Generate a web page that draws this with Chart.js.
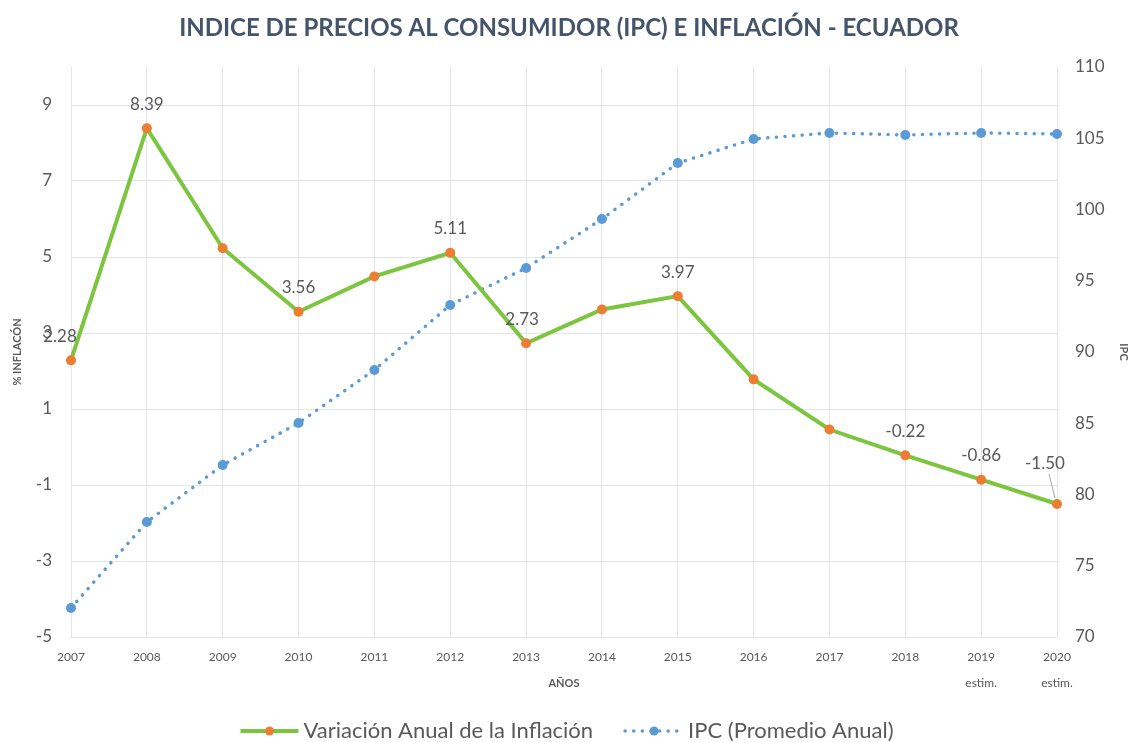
<!DOCTYPE html>
<html>
<head>
<meta charset="utf-8">
<script src="https://cdn.jsdelivr.net/npm/chart.js@4/dist/chart.umd.min.js"></script>
<style>
  html, body { margin: 0; padding: 0; background: #fff; }
  #wrap { width: 1130px; height: 742px; position: relative; }
</style>
</head>
<body>
<div id="wrap"><canvas id="chart" width="1130" height="742"></canvas></div>
<script>
// Datos
const years = ['2007', '2008', '2009', '2010', '2011', '2012', '2013', '2014', '2015', '2016', '2017', '2018', '2019', '2020'];
const estimated = ['2019', '2020'];
const inflacion = [2.28, 8.39, 5.23, 3.56, 4.49, 5.11, 2.73, 3.62, 3.97, 1.78, 0.46, -0.22, -0.86, -1.50];
const ipc = [72.04, 78.07, 82.07, 85.02, 88.74, 93.30, 95.89, 99.33, 103.26, 104.95, 105.37, 105.23, 105.37, 105.30];
const inflacionLabels = ['2.28', '8.39', null, '3.56', null, '5.11', '2.73', null, '3.97', null, null, '-0.22', '-0.86', '-1.50'];
const inflacionTicks = [-5, -3, -1, 1, 3, 5, 7, 9];

const FONT = 'Lato, "Noto Sans", sans-serif';
const GREY = '#595959';
const GREEN = '#7cc53e';
const ORANGE = '#ed7d31';
const BLUE = '#5b9bd5';

const xLabels = years.map(y => estimated.includes(y) ? [y, 'estim.'] : y);

// Title drawn by hand so the plot area can be placed with padding
const titlePlugin = {
  id: 'titleText',
  afterDraw(chart) {
    const ctx = chart.ctx;
    ctx.save();
    ctx.font = 'bold 24px ' + FONT;
    ctx.fillStyle = '#44546a';
    ctx.textAlign = 'center';
    ctx.textBaseline = 'middle';
    ctx.fillText('INDICE DE PRECIOS AL CONSUMIDOR (IPC) E INFLACIÓN - ECUADOR', 569, 28);
    ctx.restore();
  }
};

// Value labels over the inflation points
const labelOffsets = { 0: { dx: -11, dy: 0 }, 6: { dx: -4, dy: 0 }, 13: { dx: -12, dy: -16 } };
const valueLabels = {
  id: 'valueLabels',
  afterDatasetsDraw(chart) {
    const ctx = chart.ctx;
    const meta = chart.getDatasetMeta(0);
    ctx.save();
    ctx.font = '17px ' + FONT;
    ctx.fillStyle = GREY;
    ctx.textAlign = 'center';
    ctx.textBaseline = 'middle';
    meta.data.forEach((pt, i) => {
      const txt = inflacionLabels[i];
      if (!txt) return;
      const off = labelOffsets[i] || { dx: 0, dy: 0 };
      const x = pt.x + off.dx;
      const y = pt.y - 24 + off.dy;
      if (i === 13) {
        // leader line for the displaced label
        ctx.strokeStyle = '#a6a6a6';
        ctx.lineWidth = 1;
        ctx.beginPath();
        ctx.moveTo(x + 4, y + 10);
        ctx.lineTo(pt.x - 2, pt.y - 6);
        ctx.stroke();
      }
      ctx.fillText(txt, x, y);
    });
    ctx.restore();
  }
};

// Legend with line + marker samples like the original
const customLegend = {
  id: 'customLegend',
  afterDraw(chart) {
    const ctx = chart.ctx;
    const y = 731;
    ctx.save();
    ctx.font = '22px ' + FONT;
    ctx.textBaseline = 'middle';
    const items = chart.data.datasets.map(ds => ({ ds, w: ctx.measureText(ds.label).width }));
    const sample = 58, gap = 5, between = 32;
    const total = items.reduce((s, it) => s + sample + gap + it.w, 0) + between * (items.length - 1);
    let x = 567 - total / 2;
    items.forEach(it => {
      const ds = it.ds;
      ctx.strokeStyle = ds.borderColor;
      ctx.lineWidth = ds.borderWidth;
      ctx.lineCap = ds.borderDash ? 'round' : 'butt';
      ctx.setLineDash(ds.borderDash || []);
      ctx.beginPath();
      ctx.moveTo(x, y);
      ctx.lineTo(x + sample, y);
      ctx.stroke();
      ctx.setLineDash([]);
      ctx.fillStyle = ds.pointBackgroundColor;
      ctx.beginPath();
      ctx.arc(x + sample / 2, y, 4.5, 0, Math.PI * 2);
      ctx.fill();
      ctx.fillStyle = GREY;
      ctx.fillText(ds.label, x + sample + gap, y);
      x += sample + gap + it.w + between;
    });
    ctx.restore();
  }
};

const ctx = document.getElementById('chart').getContext('2d');
new Chart(ctx, {
  type: 'line',
  data: {
    labels: xLabels,
    datasets: [
      {
        label: 'Variación Anual de la Inflación',
        data: inflacion,
        yAxisID: 'y',
        borderColor: GREEN,
        borderWidth: 4,
        pointRadius: 5,
        pointBackgroundColor: ORANGE,
        pointBorderColor: ORANGE,
        pointBorderWidth: 0,
        tension: 0
      },
      {
        label: 'IPC (Promedio Anual)',
        data: ipc,
        yAxisID: 'y2',
        borderColor: BLUE,
        borderWidth: 3.5,
        borderDash: [0.1, 8.5],
        borderCapStyle: 'round',
        pointRadius: 5,
        pointBackgroundColor: BLUE,
        pointBorderColor: BLUE,
        pointBorderWidth: 0,
        tension: 0
      }
    ]
  },
  options: {
    responsive: false,
    animation: false,
    layout: { padding: { top: 67, left: 0, right: 0, bottom: 45 } },
    plugins: {
      legend: { display: false },
      title: { display: false },
      tooltip: { enabled: false }
    },
    scales: {
      x: {
        offset: false,
        grid: { color: '#e2e5ec', drawTicks: false },
        border: { display: false },
        ticks: { color: GREY, font: { family: FONT, size: 12, lineHeight: 2.2 }, padding: 7, maxRotation: 0, autoSkip: false },
        title: { display: true, text: 'AÑOS', color: GREY, font: { family: FONT, size: 11, weight: 'bold' }, padding: { top: 0, bottom: 7 } },
        afterFit(scale) { scale.height = 60; }
      },
      y: {
        position: 'left',
        min: -5,
        max: 10,
        grid: { color: '#e2e5ec', drawTicks: false },
        border: { display: false },
        ticks: { color: GREY, font: { family: FONT, size: 17 }, padding: 19 },
        afterBuildTicks(scale) { scale.ticks = inflacionTicks.map(v => ({ value: v })); },
        title: { display: true, text: '% INFLACÓN', color: GREY, font: { family: FONT, size: 11, weight: 'bold' }, padding: { top: 11, bottom: 0 } },
        afterFit(scale) { scale.width = 71; }
      },
      y2: {
        position: 'right',
        min: 70,
        max: 110,
        grid: { drawOnChartArea: false, drawTicks: false },
        border: { display: false },
        ticks: { stepSize: 5, color: GREY, font: { family: FONT, size: 17 }, padding: 18 },
        title: { display: true, text: 'IPC', color: GREY, font: { family: FONT, size: 11, weight: 'bold' }, padding: 0 },
        afterFit(scale) { scale.width = 73; }
      }
    }
  },
  plugins: [titlePlugin, valueLabels, customLegend]
});
</script>
</body>
</html>
